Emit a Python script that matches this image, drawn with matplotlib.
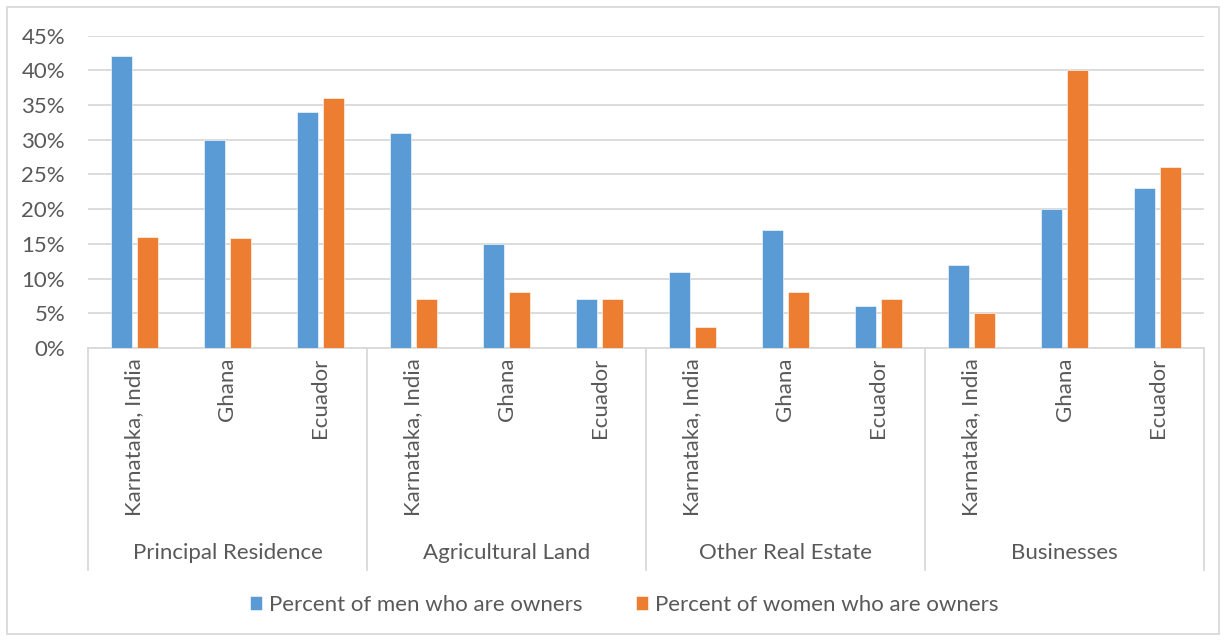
import numpy as np
import matplotlib.pyplot as plt
from matplotlib.patches import Rectangle
from matplotlib.ticker import FuncFormatter
import matplotlib.transforms as mtransforms

groups = ["Principal Residence", "Agricultural Land", "Other Real Estate", "Businesses"]
places = ["Karnataka, India", "Ghana", "Ecuador"]
men = [42, 30, 34, 31, 15, 7, 11, 17, 6, 12, 20, 23]
women = [16, 15.8, 36, 7, 8, 7, 3, 8, 7, 5, 40, 26]
series_names = ["Percent of men who are owners", "Percent of women who are owners"]

BLUE = "#5B9BD5"
ORANGE = "#ED7D31"
GRID = "#D9D9D9"
TXT = "#595959"
FS = 16

plt.rcParams['font.family'] = ['Lato', 'DejaVu Sans']

W, H = 1226, 641
fig = plt.figure(figsize=(W / 100, H / 100), dpi=100)
ax = fig.add_axes([88 / W, (H - 348) / H, 1116 / W, 312.5 / H])

x = np.arange(len(men))
bw = 0.226
off = 0.145
ax.bar(x - off, men, bw, color=BLUE, edgecolor="white", linewidth=0.4, label=series_names[0], zorder=3)
ax.bar(x + off, women, bw, color=ORANGE, edgecolor="white", linewidth=0.4, label=series_names[1], zorder=3)

ax.set_xlim(-0.5, len(men) - 0.5)
ax.set_ylim(0, 45)
ax.set_yticks(np.arange(0, 46, 5))
ax.yaxis.set_major_formatter(FuncFormatter(lambda v, p: f"{v:.0f}%"))
ax.grid(axis="y", color=GRID, linewidth=1.3, zorder=0)
ax.tick_params(axis="y", length=0, pad=16.5, labelsize=FS, labelcolor=TXT)
for s in ["top", "right", "left"]:
    ax.spines[s].set_visible(False)
ax.spines["bottom"].set_color(GRID)
ax.spines["bottom"].set_linewidth(1.3)

ax.set_xticks(x)
ax.set_xticklabels(places * len(groups), rotation=90, va="top", ha="center")
ax.tick_params(axis="x", length=0, pad=7, labelsize=FS, labelcolor=TXT)

# group separators and group labels below the axis
trans = mtransforms.blended_transform_factory(ax.transData, ax.transAxes)
depth = -222 / 312.5
for b in np.arange(0, len(men) + 1, 3) - 0.5:
    ax.plot([b, b], [0, depth], transform=trans, color=GRID, linewidth=1.3, clip_on=False)
for i, g in enumerate(groups):
    ax.text(3 * i + 1, -205 / 312.5, g, transform=trans, ha="center", va="center",
            fontsize=FS, color=TXT)

leg = fig.legend(loc="center", bbox_to_anchor=(624 / W, (H - 605) / H), ncol=2, frameon=False,
                 fontsize=FS, handlelength=0.55, handleheight=0.55, columnspacing=2.4,
                 handletextpad=0.3)
for t in leg.get_texts():
    t.set_color(TXT)

fig.patches.append(Rectangle((7 / W, 7 / H), 1212 / W, 627 / H, transform=fig.transFigure,
                             fill=False, edgecolor=GRID, linewidth=1.3))

fig.savefig("out.png", dpi=100)
